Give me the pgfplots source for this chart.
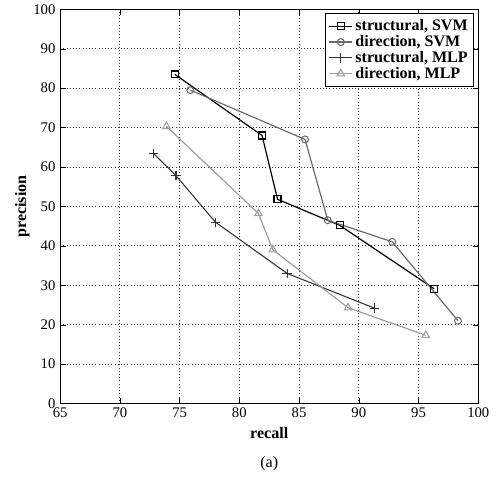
\documentclass[border=0pt]{standalone}
\usepackage{fontspec}
\setmainfont{Liberation Serif}
\usepackage{pgfplots}
\pgfplotsset{compat=1.18}
\definecolor{dsvm}{gray}{0.42}
\definecolor{smlp}{gray}{0.2}
\definecolor{dmlp}{gray}{0.62}
\begin{document}
\begin{tikzpicture}
\useasboundingbox (-45pt,-62pt) rectangle (327pt,302pt);
\begin{axis}[
scale only axis,width=313pt,height=295pt,
xmin=65,xmax=100,ymin=0,ymax=100,
xtick={65,70,...,100},ytick={0,10,...,100},
grid=major,grid style={black!80,dotted,line width=0.6pt},
axis line style={black,line width=0.6pt},
tick style={black},
/pgf/number format/assume math mode=true,
ticklabel style={font=\fontsize{11}{13}\selectfont},
xlabel={\textbf{recall}},ylabel={\textbf{precision}},
label style={font=\large},
xlabel style={yshift=0pt},
ylabel style={yshift=-4pt},
legend style={at={(0.99,0.99)},anchor=north east,font=\fontsize{12}{14}\selectfont\bfseries,draw=black,
  row sep=-2pt,inner sep=2.5pt,line width=0.6pt},
legend image post style={},
legend cell align=left,
mark size=2.6pt,
]
\addplot[black,line width=0.9pt,mark=square,mark options={solid,line width=0.9pt}] coordinates {(74.6,83.5) (81.9,68) (83.2,51.8) (88.4,45.2) (96.3,29.1)};
\addplot[dsvm,line width=0.9pt,mark=o,mark options={solid,line width=0.8pt}] coordinates {(75.9,79.5) (85.5,67) (87.4,46.5) (92.8,41) (98.3,21)};
\addplot[smlp,line width=0.8pt,mark=+,mark size=3.5pt,mark options={solid,line width=0.8pt}] coordinates {(72.8,63.5) (74.7,57.8) (78,46) (84,33) (91.3,24.2)};
\addplot[dmlp,line width=0.9pt,mark=triangle,mark size=3.2pt,mark options={solid,line width=0.8pt}] coordinates {(73.9,70.3) (81.6,48.2) (82.8,39) (89.1,24.3) (95.6,17.3)};
\legend{{structural, SVM},{direction, SVM},{structural, MLP},{direction, MLP}}
\end{axis}
\node[font=\large] at (156.5pt,-45pt) {(a)};
\end{tikzpicture}
\end{document}
